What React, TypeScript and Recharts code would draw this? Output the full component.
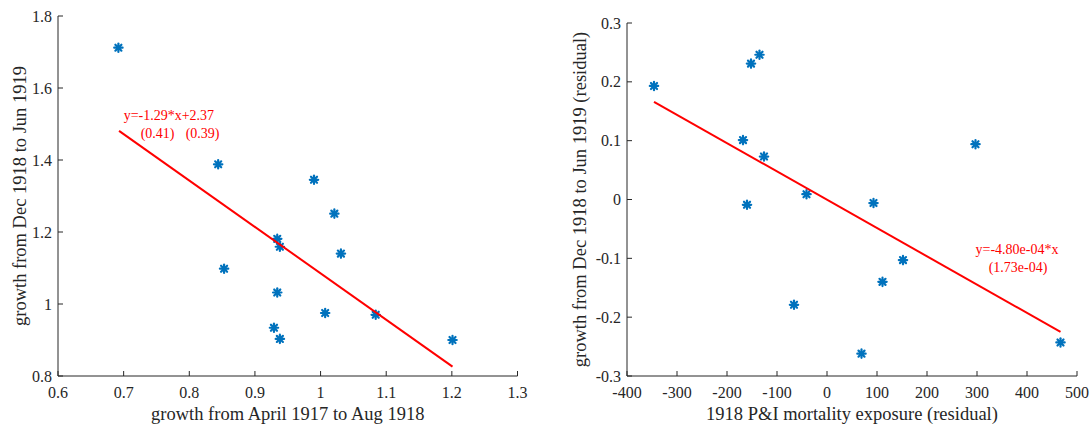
import React from 'react';
import { ScatterChart, Scatter, XAxis, YAxis, ReferenceDot } from 'recharts';

// ---- Left panel data ----
const leftX = [0.692, 0.844, 0.853, 0.990, 1.021, 0.934, 0.938, 1.031, 0.934, 1.007, 1.084, 0.929, 0.938, 1.201];
const leftY = [1.712, 1.388, 1.098, 1.345, 1.251, 1.181, 1.159, 1.140, 1.032, 0.975, 0.970, 0.934, 0.903, 0.900];
const leftFitX = [0.693, 1.201];
const leftFitY = [1.481, 0.826];
const leftXTicks = [0.6, 0.7, 0.8, 0.9, 1, 1.1, 1.2, 1.3];
const leftYTicks = [0.8, 1, 1.2, 1.4, 1.6, 1.8];
const leftEqLine1 = 'y=-1.29*x+2.37';
const leftEqSe = ['(0.41)', '(0.39)'];
const leftEqPos = { x: 0.7, y: 1.51 };

// ---- Right panel data ----
const rightX = [-346, -152, -135, -168, -126, -160, -41, 93, 297, 152, 111, -66, 69, 467];
const rightY = [0.193, 0.231, 0.246, 0.101, 0.073, -0.009, 0.009, -0.006, 0.094, -0.103, -0.140, -0.179, -0.262, -0.243];
const rightFitX = [-346, 467];
const rightFitY = [0.166, -0.225];
const rightXTicks = [-400, -300, -200, -100, 0, 100, 200, 300, 400, 500];
const rightYTicks = [-0.3, -0.2, -0.1, 0, 0.1, 0.2, 0.3];
const rightEqLine1 = 'y=-4.80e-04*x';
const rightEqLine2 = '(1.73e-04)';
const rightEqPos = { x: 380, y: -0.093 };

const zip = (xs: number[], ys: number[]) => xs.map((x, i) => ({ x, y: ys[i] }));

const FONT = "'Liberation Serif', 'Times New Roman', serif";
const AXIS = '#262626';
const BLUE = '#0072BD';
const RED = '#ff0000';

const fmt = (v: number) => String(Math.round(v * 1000) / 1000);

const XTick = (props: any) => {
  const { x, y, payload } = props;
  return (
    <g>
      <line x1={x} x2={x} y1={y} y2={y - 5} stroke={AXIS} strokeWidth={1} />
      <text x={x} y={y + 22} textAnchor="middle" fontSize={16} fontFamily={FONT} fill={AXIS}>
        {fmt(payload.value)}
      </text>
    </g>
  );
};

const YTick = (props: any) => {
  const { x, y, payload } = props;
  return (
    <g>
      <line x1={x} x2={x + 5} y1={y} y2={y} stroke={AXIS} strokeWidth={1} />
      <text x={x - 6} y={y + 5.5} textAnchor="end" fontSize={16} fontFamily={FONT} fill={AXIS}>
        {fmt(payload.value)}
      </text>
    </g>
  );
};

const Asterisk = (props: any) => {
  const { cx, cy } = props;
  const r = 4.2;
  const d = r * 0.72;
  return (
    <g stroke={BLUE} strokeWidth={2.2} strokeLinecap="round">
      <line x1={cx - r} x2={cx + r} y1={cy} y2={cy} />
      <line x1={cx} x2={cx} y1={cy - r} y2={cy + r} />
      <line x1={cx - d} x2={cx + d} y1={cy - d} y2={cy + d} />
      <line x1={cx - d} x2={cx + d} y1={cy + d} y2={cy - d} />
      <circle cx={cx} cy={cy} r={2.5} fill={BLUE} stroke="none" />
    </g>
  );
};

const NoShape = () => <g />;

const xLabel = (text: string) => (props: any) => {
  const { viewBox } = props;
  const cx = viewBox.x + viewBox.width / 2;
  return (
    <text x={cx} y={420} textAnchor="middle" fontSize={18.5} fontFamily={FONT} fill={AXIS}>
      {text}
    </text>
  );
};

const yLabel = (text: string, bx: number) => (props: any) => {
  const { viewBox } = props;
  const cy = viewBox.y + viewBox.height / 2;
  return (
    <text
      x={bx}
      y={cy}
      transform={`rotate(-90, ${bx}, ${cy})`}
      textAnchor="middle"
      fontSize={18.5}
      fontFamily={FONT}
      fill={AXIS}
    >
      {text}
    </text>
  );
};

const LeftEq = (props: any) => {
  const { cx, cy } = props;
  return (
    <g fontFamily={FONT} fontSize={14} fill={RED}>
      <text x={cx} y={cy}>{leftEqLine1}</text>
      <text x={cx + 17} y={cy + 18}>{leftEqSe[0]}</text>
      <text x={cx + 62} y={cy + 18}>{leftEqSe[1]}</text>
    </g>
  );
};

const RightEq = (props: any) => {
  const { cx, cy } = props;
  return (
    <g fontFamily={FONT} fontSize={14} fill={RED} textAnchor="middle">
      <text x={cx} y={cy}>{rightEqLine1}</text>
      <text x={cx + 1} y={cy + 18}>{rightEqLine2}</text>
    </g>
  );
};

const W = 545;
const H = 429;

export default function App() {
  const leftData = zip(leftX, leftY);
  const leftFit = zip(leftFitX, leftFitY);
  const rightData = zip(rightX, rightY);
  const rightFit = zip(rightFitX, rightFitY);

  return (
    <div style={{ position: 'absolute', left: 0, top: 0, width: 1090, height: 429, background: '#fff' }}>
      <div style={{ position: 'absolute', left: 0, top: 0 }}>
        <ScatterChart width={W} height={H} margin={{ top: 16, right: 27.5, bottom: 52, left: 57 }}>
          <XAxis
            type="number"
            dataKey="x"
            domain={[0.6, 1.3]}
            ticks={leftXTicks}
            height={1}
            tickSize={0}
            tickMargin={0}
            tick={XTick}
            tickLine={false}
            stroke={AXIS}
            interval={0}
            allowDataOverflow
            label={xLabel('growth from April 1917 to Aug 1918')}
          />
          <YAxis
            type="number"
            dataKey="y"
            domain={[0.8, 1.8]}
            ticks={leftYTicks}
            width={1}
            tickSize={0}
            tickMargin={0}
            tick={YTick}
            tickLine={false}
            stroke={AXIS}
            interval={0}
            allowDataOverflow
            label={yLabel('growth from Dec 1918 to Jun 1919', 26)}
          />
          <Scatter data={leftData} shape={Asterisk} isAnimationActive={false} />
          <Scatter data={leftFit} shape={NoShape} line={{ stroke: RED, strokeWidth: 2 }} isAnimationActive={false} />
          <ReferenceDot x={leftEqPos.x} y={leftEqPos.y} shape={LeftEq} />
        </ScatterChart>
      </div>
      <div style={{ position: 'absolute', left: 545, top: 0 }}>
        <ScatterChart width={W} height={H} margin={{ top: 23, right: 13, bottom: 52, left: 81 }}>
          <XAxis
            type="number"
            dataKey="x"
            domain={[-400, 500]}
            ticks={rightXTicks}
            height={1}
            tickSize={0}
            tickMargin={0}
            tick={XTick}
            tickLine={false}
            stroke={AXIS}
            interval={0}
            allowDataOverflow
            label={xLabel('1918 P&I mortality exposure (residual)')}
          />
          <YAxis
            type="number"
            dataKey="y"
            domain={[-0.3, 0.3]}
            ticks={rightYTicks}
            width={1}
            tickSize={0}
            tickMargin={0}
            tick={YTick}
            tickLine={false}
            stroke={AXIS}
            interval={0}
            allowDataOverflow
            label={yLabel('growth from Dec 1918 to Jun 1919 (residual)', 41)}
          />
          <Scatter data={rightData} shape={Asterisk} isAnimationActive={false} />
          <Scatter data={rightFit} shape={NoShape} line={{ stroke: RED, strokeWidth: 2 }} isAnimationActive={false} />
          <ReferenceDot x={rightEqPos.x} y={rightEqPos.y} shape={RightEq} />
        </ScatterChart>
      </div>
    </div>
  );
}
